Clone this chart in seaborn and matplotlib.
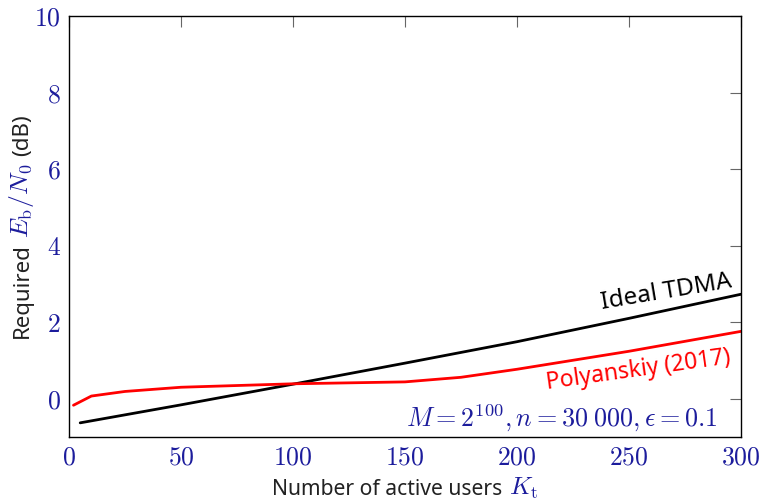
import matplotlib
matplotlib.use("Agg")
import matplotlib.pyplot as plt
import seaborn as sns
import pandas as pd

# Required Eb/N0 versus number of active users
tdma_users = [5, 50, 100, 150, 200, 250, 300]
tdma_ebn0 = [-0.63, -0.16, 0.38, 0.93, 1.49, 2.10, 2.73]

poly_users = [2, 10, 25, 50, 100, 150, 175, 200, 250, 300]
poly_ebn0 = [-0.17, 0.07, 0.19, 0.30, 0.39, 0.44, 0.56, 0.77, 1.24, 1.76]

x_ticks = [0, 50, 100, 150, 200, 250, 300]
y_ticks = [0, 2, 4, 6, 8, 10]

BLUE = "#1c1c9c"
TEXT = "#222222"
SANS = "Noto Sans"

sns.set_style("white")
plt.rcParams["mathtext.fontset"] = "cm"
plt.rcParams["font.family"] = [SANS, "DejaVu Sans"]

W, H = 762, 500
fig = plt.figure(figsize=(W / 100, H / 100), dpi=100)
ax = fig.add_axes([69 / W, 1 - 437 / H, (741 - 69) / W, (437 - 16) / H])

df_tdma = pd.DataFrame({"K": tdma_users, "E": tdma_ebn0})
df_poly = pd.DataFrame({"K": poly_users, "E": poly_ebn0})
sns.lineplot(data=df_tdma, x="K", y="E", ax=ax, color="black", lw=2.0, estimator=None)
sns.lineplot(data=df_poly, x="K", y="E", ax=ax, color="#ff0000", lw=2.0, estimator=None)

ax.set_xlim(0, 300)
ax.set_ylim(-1, 10)
ax.set_xticks(x_ticks)
ax.set_yticks(y_ticks)
ax.set_xticklabels([f"${v}$" for v in x_ticks])
ax.set_yticklabels([f"${v}$" for v in y_ticks])
ax.tick_params(axis="both", direction="in", length=8, width=0.8, color="#666666",
               top=True, right=True, labelsize=18.5, labelcolor=BLUE)
ax.tick_params(axis="x", pad=6)
ax.tick_params(axis="y", pad=6)
for s in ax.spines.values():
    s.set_visible(True)
    s.set_color("black")
    s.set_linewidth(1.0)
ax.set_xlabel("")
ax.set_ylabel("")

# Curve labels
ax.text(296.4, 2.92, "Ideal TDMA", color="black", fontsize=17.5, rotation=9.5,
        rotation_mode="anchor", ha="right", va="baseline")
ax.text(295.5, 0.93, "Polyanskiy (2017)", color="#ff0000", fontsize=16.5, rotation=8,
        rotation_mode="anchor", ha="right", va="baseline")
ax.text(219.9, -0.74, r"$M = 2^{100}, n = 30\;000, \epsilon = 0.1$", color=BLUE,
        fontsize=18.8, ha="center", va="baseline")


def multicolor(pieces, x, y, vertical=False):
    """Lay out coloured pieces of text end to end, centred at (x, y) in pixels."""
    fig.canvas.draw()
    r = fig.canvas.get_renderer()
    items = []
    for s, c, size, gap in pieces:
        t = fig.text(0, 0, s, color=c, fontsize=size, rotation=90 if vertical else 0,
                     rotation_mode="anchor", ha="left", va="baseline")
        bb = t.get_window_extent(r)
        items.append((t, (bb.height if vertical else bb.width) + gap))
    total = sum(w for _, w in items)
    pos = -total / 2
    for t, w in items:
        if vertical:
            t.set_position((x / W, 1 - (y - pos) / H))
        else:
            t.set_position(((x + pos) / W, 1 - y / H))
        pos += w


multicolor([("Number of active users", TEXT, 15.2, 6), (r"$K_\mathrm{t}$", BLUE, 18, 0)],
           405, 495)
multicolor([("Required", TEXT, 16, 6), (r"$E_\mathrm{b}/N_0$", BLUE, 18.5, 7),
            ("(dB)", TEXT, 16, 0)], 28, 226.5, vertical=True)

fig.savefig("out.png", dpi=100)
